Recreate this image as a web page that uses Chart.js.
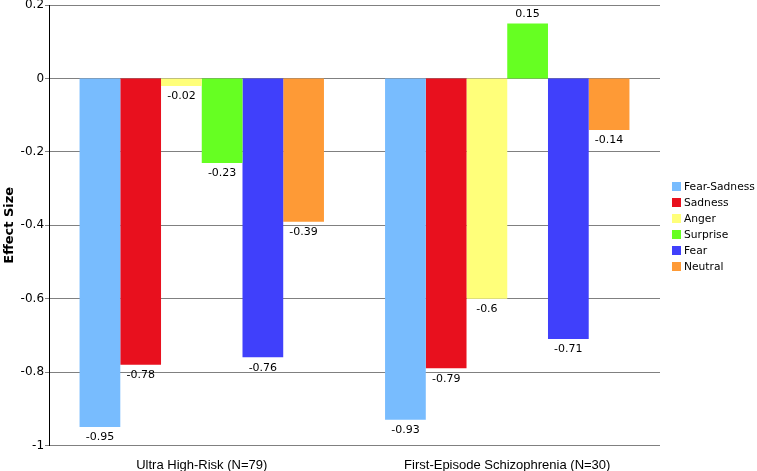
<!DOCTYPE html>
<html>
<head>
<meta charset="utf-8">
<script src="https://cdn.jsdelivr.net/npm/chart.js@4.4.1/dist/chart.umd.min.js"></script>
<style>
html,body{margin:0;padding:0;background:#fff;}
#wrap{width:757px;height:471px;}
</style>
</head>
<body>
<div id="wrap"><canvas id="c" width="757" height="471"></canvas></div>
<script>
const categories = ["Ultra High-Risk (N=79)", "First-Episode Schizophrenia (N=30)"];
const seriesNames = ["Fear-Sadness", "Sadness", "Anger", "Surprise", "Fear", "Neutral"];
const fearSadness = [-0.95, -0.93];
const sadness = [-0.78, -0.79];
const anger = [-0.02, -0.6];
const surprise = [-0.23, 0.15];
const fear = [-0.76, -0.71];
const neutral = [-0.39, -0.14];
const seriesColors = ["#78bcfe", "#e8101e", "#ffff7a", "#66ff22", "#4040fb", "#fe9a36"];
const seriesValues = [fearSadness, sadness, anger, surprise, fear, neutral];

const labelPlugin = {
  id: 'barLabels',
  afterDatasetsDraw(chart) {
    const ctx = chart.ctx;
    ctx.save();
    ctx.font = '11px "DejaVu Sans"';
    ctx.fillStyle = '#000';
    ctx.textAlign = 'center';
    chart.data.datasets.forEach((ds, i) => {
      const meta = chart.getDatasetMeta(i);
      meta.data.forEach((bar, j) => {
        const v = ds.data[j];
        if (v < 0) {
          ctx.textBaseline = 'top';
          ctx.fillText(String(v), bar.x, bar.y + 5);
        } else {
          ctx.textBaseline = 'bottom';
          ctx.fillText(String(v), bar.x, bar.y - 4);
        }
      });
    });
    ctx.restore();
  }
};

const legendPlugin = {
  id: 'sideLegend',
  afterDraw(chart) {
    const ctx = chart.ctx;
    ctx.save();
    ctx.font = '10.7px "DejaVu Sans"';
    ctx.textAlign = 'left';
    ctx.textBaseline = 'middle';
    const x0 = chart.chartArea.right + 12;
    chart.data.datasets.forEach((ds, i) => {
      const cy = 186.5 + i * 16;
      ctx.fillStyle = ds.backgroundColor;
      ctx.fillRect(x0, cy - 4.5, 9, 9);
      ctx.fillStyle = '#000';
      ctx.fillText(ds.label, x0 + 12, cy + 0.5);
    });
    ctx.restore();
  }
};

new Chart(document.getElementById('c'), {
  type: 'bar',
  data: {
    labels: categories,
    datasets: seriesNames.map((n, i) => ({
      label: n,
      data: seriesValues[i],
      backgroundColor: seriesColors[i],
      borderWidth: 0,
      barPercentage: 1.0,
      categoryPercentage: 0.8
    }))
  },
  options: {
    responsive: false,
    animation: false,
    layout: { padding: { top: 0, right: 97, bottom: -14, left: 2 } },
    plugins: {
      legend: { display: false },
      tooltip: { enabled: false }
    },
    scales: {
      x: {
        grid: { display: false, drawTicks: false },
        border: { display: false },
        ticks: { color: '#000', padding: 12, font: { family: '"Liberation Sans"', size: 13 } }
      },
      y: {
        min: -1,
        max: 0.2,
        grid: { color: '#808080', tickLength: 4, lineWidth: 1 },
        border: { display: true, color: '#000', width: 1 },
        ticks: {
          stepSize: 0.2,
          color: '#000',
          padding: 1,
          font: { family: '"DejaVu Sans"', size: 12, lineHeight: 0.7 },
          callback: v => { const r = Math.round(v * 10) / 10; return r === 0 ? '0' : String(r); }
        },
        title: {
          display: true,
          text: 'Effect Size',
          color: '#000',
          padding: { top: 0, bottom: 2 },
          font: { family: '"DejaVu Sans"', size: 13, weight: 'bold' }
        }
      }
    }
  },
  plugins: [labelPlugin, legendPlugin]
});
</script>
</body>
</html>
